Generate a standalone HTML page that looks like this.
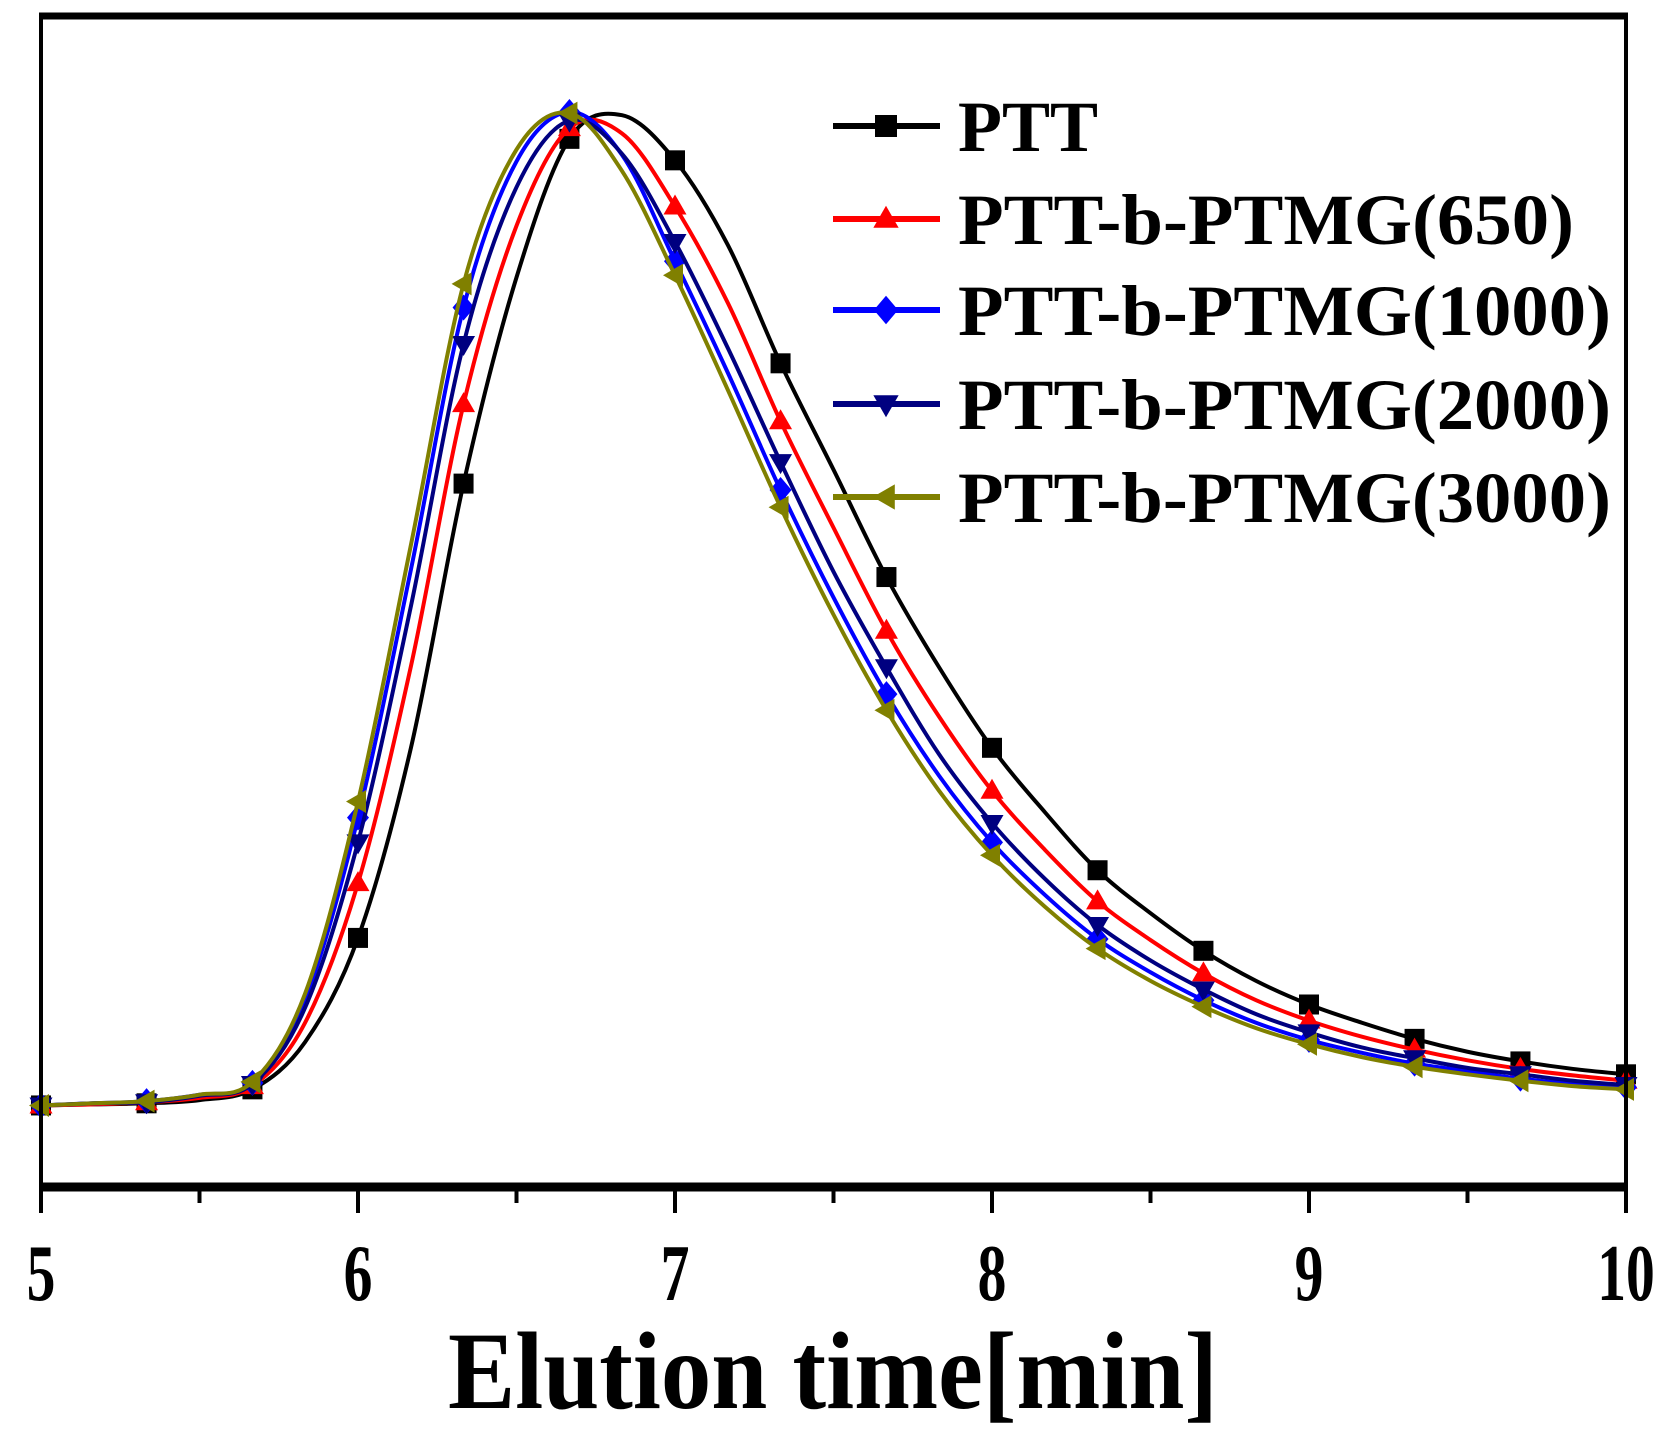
<!DOCTYPE html>
<html><head><meta charset="utf-8"><style>
html,body{margin:0;padding:0;background:#fff;}
svg{display:block;}
</style></head><body>
<svg id="chart" width="1667" height="1443" viewBox="0 0 1667 1443" xmlns="http://www.w3.org/2000/svg">
<rect x="0" y="0" width="1667" height="1443" fill="#fff"/>
<g id="plot"></g>
<g id="axes"></g>
<g id="legend"></g>
</svg>
<script>
const times = [5,5.167,5.333,5.5,5.667,5.833,6,6.167,6.333,6.5,6.667,6.833,7,7.167,7.333,7.5,7.667,7.833,8,8.167,8.333,8.5,8.667,8.833,9,9.167,9.333,9.5,9.667,9.833,10];
const pttValues = [7.5,7.6,7.7,8.0,9.0,13.4,23.1,40.8,65.4,84.6,97.5,99.7,95.5,87.6,76.6,66.7,56.7,48.3,40.8,34.8,29.4,25.4,21.9,19.1,16.9,15.2,13.7,12.5,11.6,10.9,10.4];
const ptmg650Values = [7.5,7.6,7.8,8.2,9.3,15.2,28.2,48.4,72.8,89.4,98.5,98.0,91.2,82.2,71.2,61.3,51.7,43.7,36.8,31.3,26.5,22.9,19.8,17.3,15.4,13.9,12.7,11.7,10.9,10.3,9.8];
const ptmg1000Values = [7.5,7.7,7.9,8.5,9.6,17.4,34.3,57.4,81.8,95.4,100,96.0,86.1,75.7,64.8,54.8,45.8,38.2,32.0,27.1,23.0,19.9,17.3,15.2,13.6,12.4,11.4,10.7,10.0,9.5,9.2];
const ptmg2000Values = [7.5,7.7,7.8,8.4,9.5,16.6,32.0,54.0,78.4,93.0,99.2,96.1,87.9,78.0,67.4,57.2,48.3,40.2,33.8,28.6,24.3,21.0,18.3,16.0,14.3,12.9,11.9,11.0,10.4,9.8,9.4];
const ptmg3000Values = [7.5,7.7,7.9,8.5,9.7,17.9,35.8,59.7,84.0,96.5,99.9,94.5,84.8,74.1,63.2,53.2,44.3,36.8,30.8,26.0,22.1,19.1,16.7,14.7,13.2,12.0,11.1,10.4,9.8,9.3,9.0];
const seriesNames = ["PTT","PTT-b-PTMG(650)","PTT-b-PTMG(1000)","PTT-b-PTMG(2000)","PTT-b-PTMG(3000)"];
const xTickLabels = [5,6,7,8,9,10];

const NS="http://www.w3.org/2000/svg";
const L=41,R=1626,T=16,B=1186;
const xS=t=>L+(t-5)/5*(R-L);
const yS=v=>1186-v*(1186-112)/100;
function mk(tag,attrs,parent){const e=document.createElementNS(NS,tag);for(const k in attrs)e.setAttribute(k,attrs[k]);parent.appendChild(e);return e;}
const plot=document.getElementById('plot'),axes=document.getElementById('axes'),legend=document.getElementById('legend');

const colors=["#000000","#ff0000","#0000ff","#000080","#808000"];
const shapes=["square","up","diamond","down","left"];
const allVals=[pttValues,ptmg650Values,ptmg1000Values,ptmg2000Values,ptmg3000Values];

function pathFor(vals){
  const p=times.map((t,i)=>[xS(t),yS(vals[i])]);
  let d=`M${p[0][0]},${p[0][1]}`;
  for(let i=0;i<p.length-1;i++){
    const p0=p[Math.max(0,i-1)],p1=p[i],p2=p[i+1],p3=p[Math.min(p.length-1,i+2)];
    const c1=[p1[0]+(p2[0]-p0[0])/6,p1[1]+(p2[1]-p0[1])/6];
    const c2=[p2[0]-(p3[0]-p1[0])/6,p2[1]-(p3[1]-p1[1])/6];
    d+=` C${c1[0]},${c1[1]} ${c2[0]},${c2[1]} ${p2[0]},${p2[1]}`;
  }
  return d;
}
function marker(shape,x,y,c,parent,s){
  let e;
  if(shape==="square") e=mk('rect',{x:x-s,y:y-s,width:2*s,height:2*s,fill:c},parent);
  else{
    let pts;
    if(shape==="up") pts=[[x,y-s*1.2],[x+s*1.15,y+s*0.8],[x-s*1.15,y+s*0.8]];
    if(shape==="down") pts=[[x,y+s*1.2],[x+s*1.15,y-s*0.8],[x-s*1.15,y-s*0.8]];
    if(shape==="left") pts=[[x-s*1.2,y],[x+s*0.8,y-s*1.15],[x+s*0.8,y+s*1.15]];
    if(shape==="diamond") pts=[[x,y-s*1.3],[x+s*1.1,y],[x,y+s*1.3],[x-s*1.1,y]];
    e=mk('polygon',{points:pts.map(q=>q.join(',')).join(' '),fill:c},parent);
  }
  return e;
}

allVals.forEach((vals,si)=>{
  const g=mk('g',{},plot);
  
  
  const path=mk('path',{d:pathFor(vals),fill:'none',stroke:colors[si],'stroke-width':4},g);
  
  
  times.forEach((t,i)=>{
    if(i%2===0){
      const m=marker(shapes[si],xS(t),yS(vals[i]),colors[si],g,10);
      
      
    }
  });
});

const frame=mk('rect',{x:L,y:T,width:R-L,height:B-T,fill:'none',stroke:'#000','stroke-width':4},axes);


const topLine=mk('line',{x1:L-2,y1:T,x2:R+2,y2:T,stroke:'#000','stroke-width':7},axes);


const xAxis=mk('line',{x1:L-2,y1:B+1,x2:R+2,y2:B+1,stroke:'#000','stroke-width':9},axes);


for(let t=5;t<=10.001;t+=0.5){
  const major=Math.abs(t-Math.round(t))<1e-6;
  const tk=mk('line',{x1:xS(t),y1:B,x2:xS(t),y2:B+(major?27:17),stroke:'#000','stroke-width':4},axes);
  
  
}
xTickLabels.forEach(v=>{
  const tx=mk('text',{x:0,y:0,'text-anchor':'middle','font-family':'"Liberation Serif",serif','font-weight':'bold','font-size':80,transform:`translate(${xS(v)},1300) scale(0.72,1)`},axes);
  tx.textContent=v;
  
  
});
const title=mk('text',{x:833,y:1408,'text-anchor':'middle','font-family':'"Liberation Serif",serif','font-weight':'bold','font-size':110,textLength:770,lengthAdjust:'spacingAndGlyphs'},axes);
title.textContent="Elution time[min]";



const rowsY=[126,219,310,404,497];
const textLens=[140,616,653,653,653];
seriesNames.forEach((n,i)=>{
  const g=mk('g',{},legend);
  
  
  const ln=mk('line',{x1:833,y1:rowsY[i],x2:940,y2:rowsY[i],stroke:colors[i],'stroke-width':6},g);
  
  
  const m=marker(shapes[i],886,rowsY[i],colors[i],g,11);
  
  
  const tx=mk('text',{x:958,y:rowsY[i]+25,'font-family':'"Liberation Serif",serif','font-weight':'bold','font-size':72,textLength:textLens[i],lengthAdjust:'spacingAndGlyphs'},g);
  tx.textContent=n;
  
  
});
</script>
</body></html>
